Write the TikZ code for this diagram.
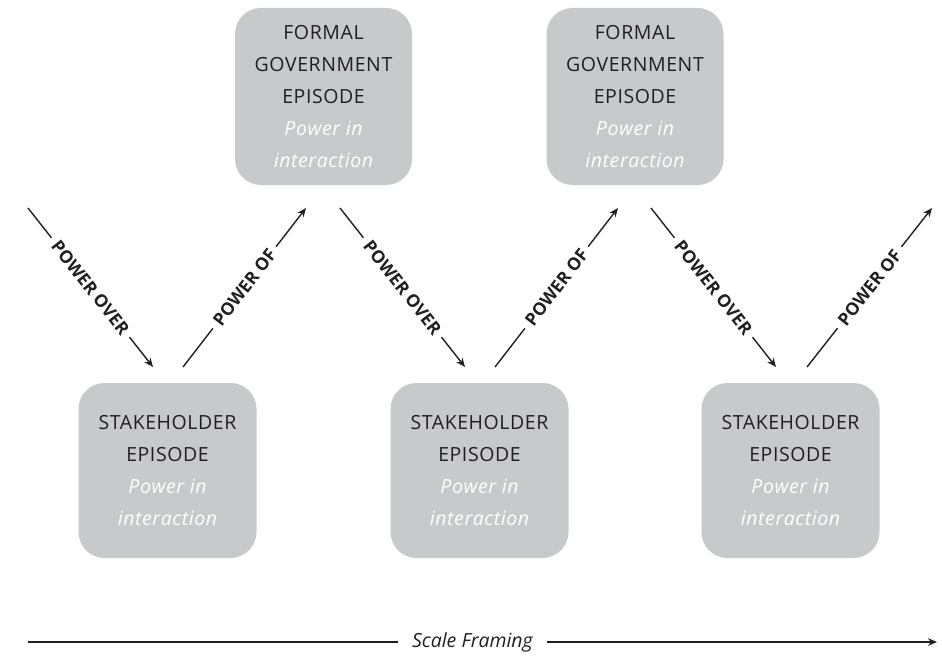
\documentclass[tikz,border=0pt]{standalone}
\usepackage{fontspec}
\setmainfont{Open Sans}
\usetikzlibrary{arrows.meta}
\definecolor{boxgray}{HTML}{C8C9CB}
\definecolor{ink}{HTML}{231F20}
\begin{document}
\begin{tikzpicture}[x=1pt,y=-1pt,
  episode/.style={fill=boxgray, rounded corners=26pt, align=center, text=ink,
    font=\fontsize{19.5}{32}\selectfont\addfontfeature{LetterSpace=3}, inner sep=0pt},
  topbox/.style={episode, minimum width=177pt, minimum height=177pt},
  botbox/.style={episode, minimum width=178pt, minimum height=175pt},
  flow/.style={draw=ink, line width=1.4pt, -{Stealth[length=9pt,width=7.5pt]}},
  flowlabel/.style={fill=white, sloped, text=ink, inner xsep=6pt, inner ysep=3pt,
    font=\fontsize{17.5}{17.5}\bfseries\selectfont}]
\useasboundingbox (0,0) rectangle (942,658);
% top boxes
\node[topbox] (f1) at (323.5,96.5)
  {FORMAL\\GOVERNMENT\\EPISODE\\{\color{white}\itshape Power in}\\{\color{white}\itshape interaction}};
\node[topbox] (f2) at (635,96.5)
  {FORMAL\\GOVERNMENT\\EPISODE\\{\color{white}\itshape Power in}\\{\color{white}\itshape interaction}};
% bottom boxes
\node[botbox] (s1) at (167.5,470.5)
  {STAKEHOLDER\\EPISODE\\{\color{white}\itshape Power in}\\{\color{white}\itshape interaction}};
\node[botbox] (s2) at (479.5,470.5)
  {STAKEHOLDER\\EPISODE\\{\color{white}\itshape Power in}\\{\color{white}\itshape interaction}};
\node[botbox] (s3) at (790.5,470.5)
  {STAKEHOLDER\\EPISODE\\{\color{white}\itshape Power in}\\{\color{white}\itshape interaction}};
% arrow end points
\coordinate (a1s) at (28,208);  \coordinate (a1e) at (153,367);
\coordinate (b1s) at (183,367); \coordinate (b1e) at (306,208);
\coordinate (a2s) at (340,208); \coordinate (a2e) at (465,367);
\coordinate (b2s) at (495,367); \coordinate (b2e) at (618,208);
\coordinate (a3s) at (651,208); \coordinate (a3e) at (776,367);
\coordinate (b3s) at (807,367); \coordinate (b3e) at (932,208);
\foreach \i in {1,2,3}{
  \draw[flow] (a\i s) -- node[flowlabel] {POWER OVER} (a\i e);
  \draw[flow] (b\i s) -- node[flowlabel] {POWER OF} (b\i e);
}
% scale framing
\coordinate (sfs) at (28,642);
\coordinate (sfe) at (937,642);
\draw[flow] (sfs) -- (sfe);
\node[fill=white, inner xsep=14pt, text=ink, font=\fontsize{19.5}{19.5}\itshape\selectfont] (sf) at (472.5,642) {Scale Framing};
\end{tikzpicture}
\end{document}
